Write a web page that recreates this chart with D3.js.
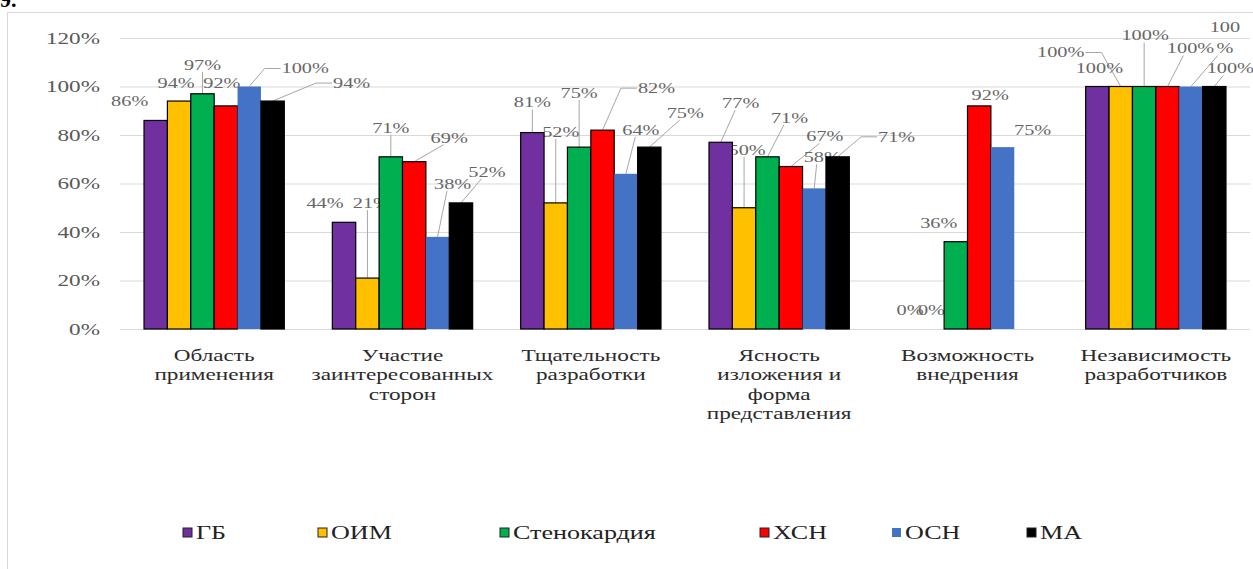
<!DOCTYPE html>
<html>
<head>
<meta charset="utf-8">
<script src="https://cdn.jsdelivr.net/npm/d3@7"></script>
<style>
  html, body { margin: 0; padding: 0; background: #fff; }
  svg { display: block; }
  svg text { font-family: "Liberation Serif", "DejaVu Serif", serif; }
</style>
</head>
<body>
<svg id="chart" width="1253" height="569"></svg>
<script>
// ---- data ----
const categories = [
  "Область\nприменения",
  "Участие\nзаинтересованных\nсторон",
  "Тщательность\nразработки",
  "Ясность\nизложения и\nформа\nпредставления",
  "Возможность\nвнедрения",
  "Независимость\nразработчиков"
];
const seriesNames = ["ГБ", "ОИМ", "Стенокардия", "ХСН", "ОСН", "МА"];

// percentage of guidelines meeting each domain, per condition
const valuesGB   = [86, 44, 81, 77, 0, 100];
const valuesOIM  = [94, 21, 52, 50, 0, 100];
const valuesSten = [97, 71, 75, 71, 36, 100];
const valuesHSN  = [92, 69, 82, 67, 92, 100];
const valuesOSN  = [100, 38, 64, 58, 75, 100];
const valuesMA   = [94, 52, 75, 71, null, 100];
const seriesValues = [valuesGB, valuesOIM, valuesSten, valuesHSN, valuesOSN, valuesMA];

const yTicks = [0, 20, 40, 60, 80, 100, 120];

// ---- styling / layout ----
const seriesColors = ["#7030a0", "#ffc000", "#00b050", "#ff0000", "#4472c4", "#000000"];
const seriesStroke = ["#000", "#000", "#000", "#000", "none", "#000"];

// label offsets from bar top: [dx, dy, leader line, wrap "%" onto 2nd line]
const labelLayout = [
  [[-26, -19, 0, 0], [-19, -19, 0, 0], [0, -30, 1, 0], [20, -39, 1, 0], [1, -19, 0, 0], [2, -18, 0, 0]],
  [[-3, -18, 0, 0], [4, -75, 1, 0], [5, -71, 1, 0], [3, -58, 1, 0], [-1, -19, 0, 0], [-60, -34, 1, 0]],
  [[0, -29, 1, 0], [0, -29, 1, 0], [0, -54, 1, 0], [22, -39, 1, 0], [-17, -19, 0, 0], [1, -51, 1, 0]],
  [[-4, -23, 0, 0], [35, -24, 1, 0], [54, -42, 1, 0], [34, -30, 1, 0], [11, -11, 0, 0], [23, -38, 1, 0]],
  [[56, -18, 1, 0], [15, -53, 1, 0], [15, -44, 1, 0], [8, -31, 1, 0], [30, -17, 0, 0], [34, -49, 1, 1]],
  [[79, -18, 1, 0], [26, -31, 1, 0], [36, -34, 1, 0], [59, -20, 1, 0], null, [16, -18, 1, 0]]
];
const legendX = [183, 318, 500, 760, 892, 1027];

const SX = 1.45; // horizontal text stretch

const svg = d3.select("#chart");
const plot = { left: 120, right: 1250, top: 38, bottom: 329 };

// chart frame
svg.append("rect")
  .attr("x", 7.5).attr("y", 12.5)
  .attr("width", 1260).attr("height", 570)
  .attr("fill", "none").attr("stroke", "#d9d9d9");

// section number fragment at the page top
svg.append("text")
  .attr("x", 0).attr("y", 7)
  .style("font-size", "22px").style("font-weight", "bold")
  .attr("fill", "#000")
  .text("9.");

const x0 = d3.scaleBand()
  .domain(d3.range(categories.length))
  .range([plot.left, plot.right])
  .paddingInner(0.255)
  .paddingOuter(0.1275);
const x1 = d3.scaleBand()
  .domain(d3.range(seriesNames.length))
  .range([0, x0.bandwidth()]);
const y = d3.scaleLinear().domain([0, 120]).range([plot.bottom, plot.top]);

// gridlines
const grid = svg.append("g")
  .attr("transform", `translate(${plot.left},0)`)
  .call(d3.axisLeft(y).tickValues(yTicks).tickSize(-(plot.right - plot.left)).tickFormat(""));
grid.select(".domain").remove();
grid.selectAll("line").attr("stroke", "#d9d9d9").attr("stroke-width", 1);

// y tick labels
const yAxis = svg.append("g")
  .attr("transform", `translate(${plot.left},0)`)
  .call(d3.axisLeft(y).tickValues(yTicks).tickSize(0).tickPadding(20).tickFormat(d => d + "%"));
yAxis.select(".domain").remove();
yAxis.attr("font-family", null).attr("font-size", null);
yAxis.selectAll("text")
  .style("font-size", "16px").attr("fill", "#595959")
  .attr("x", -20 / SX)
  .attr("transform", `scale(${SX},1)`);

// flatten bars
const bars = [];
seriesValues.forEach((vals, s) => {
  vals.forEach((v, c) => {
    if (v === null || v === undefined) return;
    bars.push({ s, c, v, layout: labelLayout[s][c] });
  });
});

const barX = d => x0(d.c) + x1(d.s);
const barCx = d => barX(d) + x1.bandwidth() / 2;

// data labels and leader lines (beneath the bars)
const labelG = svg.append("g");
bars.forEach(d => {
  const L = d.layout;
  if (!L) return;
  const bx = barCx(d), by = y(d.v);
  const lx = bx + L[0], ly = by + L[1];
  const txt = labelG.append("text")
    .attr("transform", `translate(${lx},${ly}) scale(${SX},1)`)
    .attr("text-anchor", "middle")
    .style("font-size", "14px").attr("fill", "#666");
  let bottom = ly + 7;
  if (L[3]) {
    txt.append("tspan").attr("x", 0).attr("y", -10).attr("dy", "0.35em").text(d.v);
    txt.append("tspan").attr("x", 0).attr("y", 11).attr("dy", "0.35em").text("%");
    bottom = ly + 18;
  } else {
    txt.attr("dy", "0.35em").text(d.v + "%");
  }
  if (L[2]) {
    const hw = txt.node().getComputedTextLength() * SX / 2;
    let pts;
    if (Math.abs(L[0]) > hw * 2) {
      const side = Math.sign(L[0]);
      const ex = lx - side * (hw + 1);
      pts = [[bx, by], [ex - side * 16, ly], [ex, ly]];
    } else {
      const ex = Math.max(lx - hw * 0.3, Math.min(lx + hw * 0.3, bx));
      pts = [[bx, by], [ex, bottom]];
    }
    labelG.insert("path", "text")
      .attr("d", d3.line()(pts))
      .attr("fill", "none").attr("stroke", "#a6a6a6").attr("stroke-width", 1);
  }
});

// bars
svg.append("g").selectAll("rect")
  .data(bars)
  .join("rect")
  .attr("x", d => barX(d))
  .attr("y", d => y(d.v))
  .attr("width", x1.bandwidth())
  .attr("height", d => y(0) - y(d.v))
  .attr("fill", d => seriesColors[d.s])
  .attr("stroke", d => seriesStroke[d.s])
  .attr("stroke-width", 1.2);

// category labels
categories.forEach((cat, c) => {
  const cx = x0(c) + x0.bandwidth() / 2;
  const t = svg.append("text")
    .attr("transform", `translate(${cx},355) scale(${SX},1)`)
    .attr("text-anchor", "middle")
    .style("font-size", "16px").attr("fill", "#2b2b2b");
  cat.split("\n").forEach((line, i) => {
    t.append("tspan").attr("x", 0).attr("y", i * 19.5).attr("dy", "0.35em").text(line);
  });
});

// legend
const legend = svg.append("g");
seriesNames.forEach((name, s) => {
  const lx = legendX[s];
  legend.append("rect")
    .attr("x", lx).attr("y", 528)
    .attr("width", 9).attr("height", 9)
    .attr("fill", seriesColors[s])
    .attr("stroke", seriesStroke[s] === "none" ? "none" : "#222")
    .attr("stroke-width", 1);
  legend.append("text")
    .attr("transform", `translate(${lx + 13},533) scale(${SX},1)`)
    .attr("dy", "0.35em")
    .style("font-size", "18px").attr("fill", "#222")
    .text(name);
});
</script>
</body>
</html>
